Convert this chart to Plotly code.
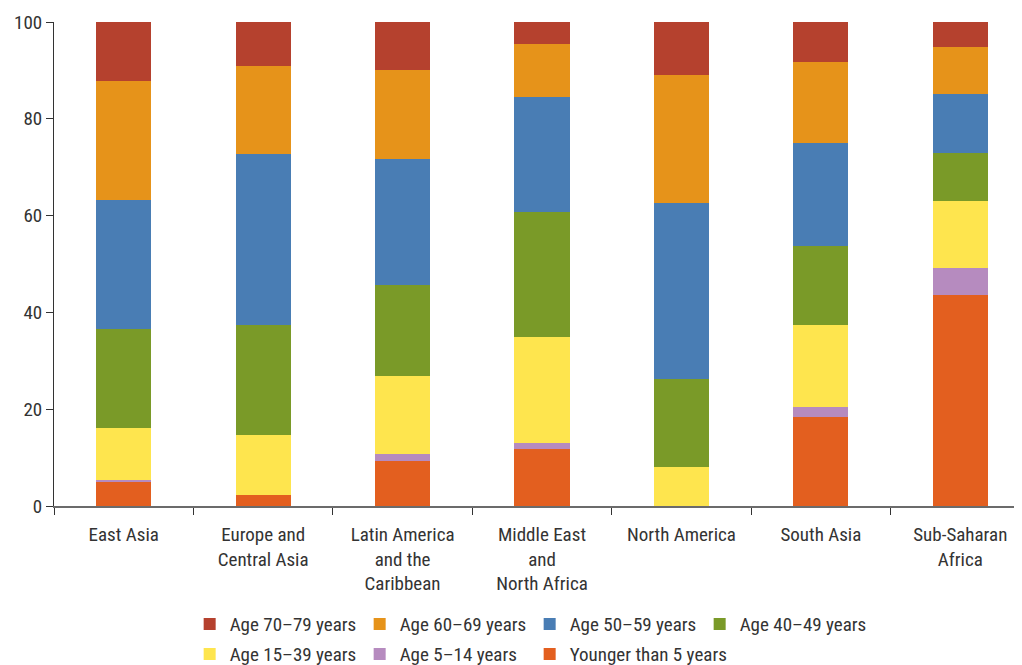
import plotly.graph_objects as go

# categories and shares (% of total)
regions = ["East Asia", "Europe and<br>Central Asia", "Latin America<br>and the<br>Caribbean",
           "Middle East<br>and<br>North Africa", "North America", "South Asia", "Sub-Saharan<br>Africa"]

under5 = [5.0, 2.3, 9.3, 11.8, 0.0, 18.4, 43.6]
age5_14 = [0.4, 0.0, 1.4, 1.2, 0.0, 2.1, 5.6]
age15_39 = [10.8, 12.4, 16.2, 21.9, 8.1, 16.9, 13.8]
age40_49 = [20.4, 22.6, 18.8, 25.8, 18.1, 16.3, 9.9]
age50_59 = [26.6, 35.4, 26.0, 23.8, 36.4, 21.3, 12.2]
age60_69 = [24.6, 18.2, 18.4, 11.0, 26.4, 16.7, 9.7]
age70_79 = [12.2, 9.1, 9.9, 4.5, 11.0, 8.3, 5.2]

# (name, values, colour, legend row) - stacked bottom to top
series = [
    ("Younger than 5 years", under5, "#E35F1F", "legend2"),
    ("Age 5–14 years", age5_14, "#B68BBF", "legend2"),
    ("Age 15–39 years", age15_39, "#FEE54E", "legend2"),
    ("Age 40–49 years", age40_49, "#7A9A28", "legend"),
    ("Age 50–59 years", age50_59, "#497DB4", "legend"),
    ("Age 60–69 years", age60_69, "#E6931A", "legend"),
    ("Age 70–79 years", age70_79, "#B5412E", "legend"),
]

font_family = "Liberation Sans Narrow, Arial Narrow, Roboto Condensed, sans-serif"

fig = go.Figure()
for i, (name, vals, col, leg) in enumerate(series):
    fig.add_trace(go.Bar(x=regions, y=vals, name=name, legend=leg, legendrank=100 - i,
                         marker=dict(color=col, line=dict(width=0))))
# last legend entry needs room for its longer label
fig.data[0].legendwidth = 175

legend_style = dict(orientation="h", traceorder="normal", xanchor="left", yanchor="middle",
                    entrywidthmode="pixels", entrywidth=125, font=dict(size=19),
                    bgcolor="rgba(0,0,0,0)")

# page body has an 8px margin, so the figure sits 8px right/down of the window corner
fig.update_layout(
    barmode="stack",
    bargap=0.605,
    width=1022, height=665,
    margin=dict(l=46, r=0, t=14, b=167, autoexpand=False),
    plot_bgcolor="white", paper_bgcolor="white",
    font=dict(family=font_family, size=19, color="#333333"),
    legend=dict(x=0.139, y=-0.244, **legend_style),
    legend2=dict(x=0.139, y=-0.306, **legend_style),
)
fig.update_xaxes(range=[-0.5, 6.5], showline=True, linecolor="#6b6b6b", linewidth=2,
                 ticks="outside", tickson="boundaries", ticklen=7, tickcolor="#333333",
                 ticklabelstandoff=10, showgrid=False)
fig.update_yaxes(range=[0, 100], tickvals=[0, 20, 40, 60, 80, 100], showline=True,
                 linecolor="#333333", linewidth=1, ticks="outside", ticklen=7,
                 tickcolor="#333333", showgrid=False, zeroline=False)

fig.write_html("out.html")
